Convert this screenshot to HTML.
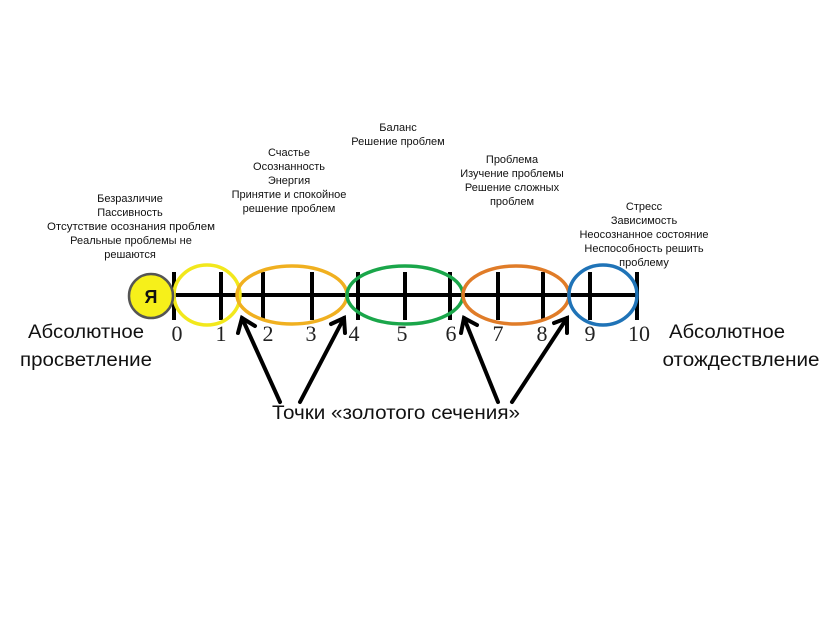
<!DOCTYPE html>
<html><head><meta charset="utf-8"><style>
html,body{margin:0;padding:0;background:#fff;width:835px;height:624px;overflow:hidden}
svg text{font-family:"Liberation Sans",sans-serif;fill:#111}
.s{font-size:11px;text-anchor:middle}
svg .n text{font-family:"Liberation Serif",serif;font-size:22px;text-anchor:middle;fill:#222}
.b{font-size:19px;text-anchor:middle}
</style></head><body>
<svg width="835" height="624" viewBox="0 0 835 624">
<g class="s">
<text x="130" y="202">Безразличие</text>
<text x="130" y="216">Пассивность</text>
<text x="131" y="230" textLength="168" lengthAdjust="spacingAndGlyphs">Отсутствие  осознания  проблем</text>
<text x="131" y="244">Реальные  проблемы  не</text>
<text x="130" y="258">решаются</text>
<text x="289" y="156">Счастье</text>
<text x="289" y="170">Осознанность</text>
<text x="289" y="184">Энергия</text>
<text x="289" y="198">Принятие  и спокойное</text>
<text x="289" y="212">решение проблем</text>
<text x="398" y="131">Баланс</text>
<text x="398" y="145">Решение проблем</text>
<text x="512" y="163">Проблема</text>
<text x="512" y="177">Изучение  проблемы</text>
<text x="512" y="191">Решение сложных</text>
<text x="512" y="205">проблем</text>
<text x="644" y="210">Стресс</text>
<text x="644" y="224">Зависимость</text>
<text x="644" y="238">Неосознанное  состояние</text>
<text x="644" y="252">Неспособность  решить</text>
<text x="644" y="266">проблему</text>
</g>
<line x1="174" y1="295" x2="637" y2="295" stroke="#000" stroke-width="4"/>
<g stroke="#000" stroke-width="4">
<line x1="174" y1="272" x2="174" y2="320"/><line x1="221" y1="272" x2="221" y2="320"/>
<line x1="263" y1="272" x2="263" y2="320"/><line x1="312" y1="272" x2="312" y2="320"/>
<line x1="358" y1="272" x2="358" y2="320"/><line x1="405" y1="272" x2="405" y2="320"/>
<line x1="450" y1="272" x2="450" y2="320"/><line x1="498" y1="272" x2="498" y2="320"/>
<line x1="543" y1="272" x2="543" y2="320"/><line x1="590" y1="272" x2="590" y2="320"/>
<line x1="637" y1="272" x2="637" y2="320"/>
</g>
<g fill="none" stroke-width="3.5">
<ellipse cx="207" cy="295" rx="33" ry="30" stroke="#f2e81c"/>
<ellipse cx="292" cy="295" rx="55" ry="29" stroke="#f0b020"/>
<ellipse cx="405" cy="295" rx="58" ry="29" stroke="#1aa64a"/>
<ellipse cx="516" cy="295" rx="53" ry="29" stroke="#e07c28"/>
<ellipse cx="603" cy="295" rx="34" ry="30" stroke="#1f73b7"/>
</g>
<circle cx="151" cy="296" r="22" fill="#f6f01a" stroke="#555" stroke-width="2.5"/>
<text x="151" y="303" style="font-size:18px;font-weight:bold;text-anchor:middle">Я</text>
<g class="n">
<text x="177" y="341">0</text><text x="221" y="341">1</text><text x="268" y="341">2</text>
<text x="311" y="341">3</text><text x="354" y="341">4</text><text x="402" y="341">5</text>
<text x="451" y="341">6</text><text x="498" y="341">7</text><text x="542" y="341">8</text>
<text x="590" y="341">9</text><text x="639" y="341">10</text>
</g>
<g class="b">
<text x="86" y="338" textLength="116" lengthAdjust="spacingAndGlyphs">Абсолютное</text>
<text x="86" y="366" textLength="132" lengthAdjust="spacingAndGlyphs">просветление</text>
<text x="727" y="338" textLength="116" lengthAdjust="spacingAndGlyphs">Абсолютное</text>
<text x="741" y="366" textLength="157" lengthAdjust="spacingAndGlyphs">отождествление</text>
<text x="396" y="419" textLength="248" lengthAdjust="spacingAndGlyphs">Точки «золотого сечения»</text>
</g>
<g stroke="#000" stroke-width="4" fill="none" stroke-linecap="round">
<line x1="280" y1="402" x2="242" y2="318"/><polyline points="238,333 242,318 255,326"/>
<line x1="300" y1="402" x2="344" y2="318"/><polyline points="331,324 344,318 345,333"/>
<line x1="498" y1="402" x2="464" y2="318"/><polyline points="461,333 464,318 477,325"/>
<line x1="512" y1="402" x2="567" y2="318"/><polyline points="554,323 567,318 567,333"/>
</g>
</svg>
</body></html>
